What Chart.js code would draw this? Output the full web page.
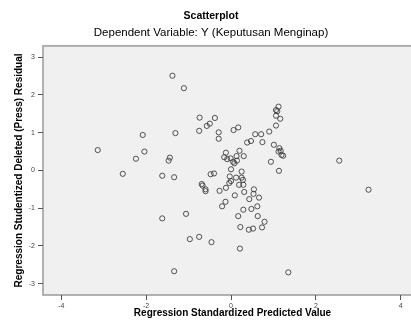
<!DOCTYPE html>
<html>
<head>
<meta charset="utf-8">
<script src="https://cdn.jsdelivr.net/npm/chart.js@4.4.1/dist/chart.umd.min.js"></script>
<style>
  html, body { margin: 0; padding: 0; background: #fff; overflow: hidden; }
  #wrap { width: 427px; height: 327px; }
</style>
</head>
<body>
<div id="wrap"><canvas id="scatterChart" width="427" height="327"></canvas></div>
<script>
// Regression Standardized Predicted Value (x) dan Studentized Deleted Residual (y)
const predicted = [
  -3.14, -2.55, -2.24, -2.08, -2.04, -1.62, -1.62, -1.47, -1.44, -1.38,
  -1.34, -1.34, -1.31, -1.11, -1.06, -0.97, -0.75, -0.74, -0.75, -0.57,
  -0.50, -0.38, -0.46, -0.29, -0.29, -0.48, -0.40, -0.69, -0.67, -0.60,
  -0.60, -0.27, -0.21, -0.13, -0.12, 0.06, 0.17, 0.38, 0.47, 0.57,
  0.71, 0.90, 0.74, 1.01, 1.14, 1.17, 1.12, 1.23, 1.19, 0.94,
  2.55, 1.13, 1.12, 1.06, 1.09, 1.06, 1.16, 1.06, -0.12, -0.16,
  -0.09, -0.01, 0.05, 0.08, 0.13, 0.14, 0.20, 0.30, 0.00, 0.25,
  -0.03, 0.12, 0.25, -0.04, 0.00, 0.19, 0.29, 0.28, 0.09, 0.31,
  0.54, 0.53, 0.66, 0.43, 0.62, 0.48, 0.29, 0.17, 0.63, 0.79,
  0.22, 0.42, 0.52, 0.73, 0.21, 1.35, 3.24
];
const residuals = [
  0.54, -0.09, 0.31, 0.94, 0.50, -0.14, -1.27, 0.26, 0.34, 2.51,
  -0.18, -2.67, 0.99, 2.18, -1.15, -1.82, -1.76, 1.40, 1.05, 1.18,
  1.24, 1.39, -1.90, 1.01, 0.84, -0.10, -0.08, -0.36, -0.40, -0.50,
  -0.55, -0.54, -0.95, -0.83, -0.46, 1.07, 1.14, 0.74, 0.78, 0.96,
  0.96, 1.03, 0.75, 0.68, 0.59, 0.52, 0.50, 0.39, 0.41, 0.23,
  0.26, -0.01, 1.69, 1.60, 1.57, 1.45, 1.37, 1.19, 0.47, 0.35,
  0.30, 0.32, 0.23, 0.19, 0.38, 0.26, 0.52, 0.38, 0.03, -0.03,
  -0.16, -0.19, -0.19, -0.33, -0.28, -0.38, -0.38, -0.25, -0.66, -0.57,
  -0.50, -0.62, -0.72, -0.76, -0.95, -1.02, -1.04, -1.21, -1.21, -1.36,
  -1.50, -1.57, -1.54, -1.51, -2.07, -2.70, -0.51
];
const xTicks = [-4, -2, 0, 2, 4];
const yTicks = [-3, -2, -1, 0, 1, 2, 3];

const points = predicted.map((x, i) => ({ x: x, y: residuals[i] }));

// fondo gris del área y marco
const plotBg = {
  id: 'plotBg',
  beforeDraw(chart) {
    const { ctx, chartArea: a } = chart;
    ctx.save();
    ctx.fillStyle = '#f0f0f0';
    ctx.fillRect(a.left, a.top, a.right - a.left, a.bottom - a.top);
    ctx.strokeStyle = '#9a9a9a';
    ctx.lineWidth = 1.5;
    ctx.strokeRect(a.left, a.top, a.right - a.left, a.bottom - a.top);
    ctx.restore();
  }
};

const tickFont = { family: 'Liberation Sans', size: 7 };
const titleFont = { family: 'Liberation Sans', size: 10, weight: 'bold' };

new Chart(document.getElementById('scatterChart'), {
  type: 'scatter',
  data: {
    datasets: [{
      data: points,
      pointRadius: 2.6,
      pointBorderWidth: 1,
      borderColor: 'rgba(55,55,55,0.85)',
      backgroundColor: 'rgba(0,0,0,0)',
      pointHoverRadius: 2.6
    }]
  },
  options: {
    responsive: false,
    animation: false,
    layout: { padding: { left: 0, right: 5, top: 0, bottom: 0 } },
    plugins: {
      legend: { display: false },
      tooltip: { enabled: false },
      title: {
        display: true,
        text: 'Scatterplot',
        color: '#000',
        font: { family: 'Liberation Sans', size: 10.5, weight: 'bold' },
        padding: { top: 10, bottom: 3.5 }
      },
      subtitle: {
        display: true,
        text: 'Dependent Variable: Y (Keputusan Menginap)',
        color: '#000',
        font: { family: 'Liberation Sans', size: 11.5 },
        padding: { top: 0, bottom: 6 }
      }
    },
    scales: {
      x: {
        type: 'linear',
        min: -4.43,
        max: 4.5,
        afterBuildTicks: s => { s.ticks = xTicks.map(v => ({ value: v })); },
        afterFit: s => { s.height = 32; },
        ticks: { color: '#444', font: tickFont, padding: 2 },
        grid: { drawOnChartArea: false, drawTicks: true, tickLength: 5, color: '#555' },
        border: { display: false },
        title: {
          display: true,
          text: 'Regression Standardized Predicted Value',
          color: '#000',
          font: titleFont,
          padding: { top: 0, bottom: 8 }
        }
      },
      y: {
        type: 'linear',
        min: -3.3,
        max: 3.3,
        afterBuildTicks: s => { s.ticks = yTicks.map(v => ({ value: v })); },
        afterFit: s => { s.width = 43; },
        ticks: { color: '#444', font: tickFont, padding: 3 },
        grid: { drawOnChartArea: false, drawTicks: true, tickLength: 5, color: '#555' },
        border: { display: false },
        title: {
          display: true,
          text: 'Regression Studentized Deleted (Press) Residual',
          color: '#000',
          font: titleFont,
          padding: { top: 13, bottom: 0 }
        }
      }
    }
  },
  plugins: [plotBg]
});
</script>
</body>
</html>
